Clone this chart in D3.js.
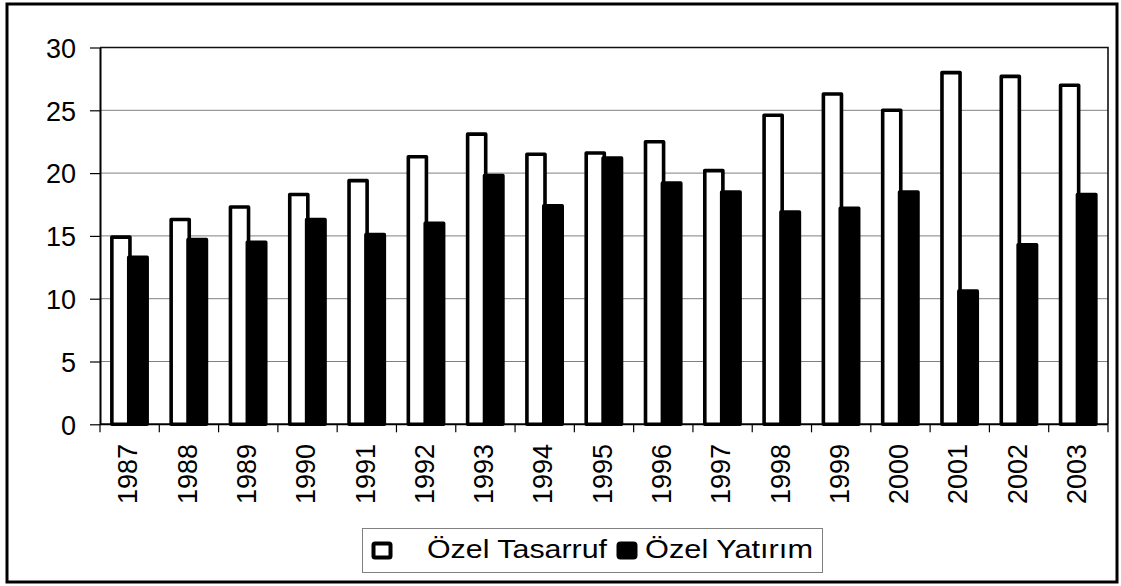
<!DOCTYPE html>
<html>
<head>
<meta charset="utf-8">
<script src="https://cdn.jsdelivr.net/npm/d3@7"></script>
<style>
  html, body { margin: 0; padding: 0; background: #fff; }
  svg { display: block; font-family: "Liberation Sans", Arial, sans-serif; }
</style>
</head>
<body>
<svg id="chart" width="1121" height="586"></svg>
<script>
const years = ["1987","1988","1989","1990","1991","1992","1993","1994","1995","1996","1997","1998","1999","2000","2001","2002","2003"];
const savings = [14.9,16.3,17.3,18.3,19.4,21.3,23.1,21.5,21.6,22.5,20.2,24.6,26.3,25.0,28.0,27.7,27.0];
const investment = [13.3,14.7,14.5,16.3,15.1,16.0,19.8,17.4,21.2,19.2,18.5,16.9,17.2,18.5,10.6,14.3,18.3];
const yTicks = [0,5,10,15,20,25,30];
const seriesNames = ["Özel Tasarruf","Özel Yatırım"];

const svg = d3.select("#chart");
const plot = {left: 100, right: 1108, top: 47.5, bottom: 424.3};

// outer frame
svg.append("rect").attr("x", 7).attr("y", 4).attr("width", 1110).attr("height", 578)
  .attr("fill", "#fff").attr("stroke", "#000").attr("stroke-width", 3);

const x = d3.scaleBand().domain(years).range([plot.left, plot.right]).padding(0);
const y = d3.scaleLinear().domain([0, 30]).range([plot.bottom, plot.top]);
const bw = x.bandwidth();

// gridlines
svg.append("g").selectAll("line").data(yTicks.filter(t => t > 0 && t < 30)).join("line")
  .attr("x1", plot.left).attr("x2", plot.right)
  .attr("y1", d => y(d)).attr("y2", d => y(d))
  .attr("stroke", "#808080").attr("stroke-width", 1);

// plot border (top & right)
svg.append("path")
  .attr("d", `M${plot.left},${y(30)}H${plot.right}V${plot.bottom}`)
  .attr("fill", "none").attr("stroke", "#111").attr("stroke-width", 1.6);

// bars
const bars = svg.append("g").attr("stroke-linejoin", "round");
bars.selectAll("rect.s").data(savings).join("rect").attr("class", "s")
  .attr("x", (d, i) => x(years[i]) + 0.2 * bw)
  .attr("width", 0.305 * bw)
  .attr("y", d => y(d))
  .attr("height", d => y(0) - y(d))
  .attr("fill", "#fff").attr("stroke", "#000").attr("stroke-width", 3.6);
bars.selectAll("rect.v").data(investment).join("rect").attr("class", "v")
  .attr("x", (d, i) => x(years[i]) + 0.485 * bw)
  .attr("width", 0.31 * bw)
  .attr("y", d => y(d))
  .attr("height", d => y(0) - y(d))
  .attr("fill", "#000").attr("stroke", "#000").attr("stroke-width", 3.6);

// y axis
const yAxis = d3.axisLeft(y).tickValues(yTicks).tickSize(10).tickSizeOuter(0).tickFormat(d3.format("d"));
const gy = svg.append("g").attr("transform", `translate(${plot.left},0)`).call(yAxis);
gy.select(".domain").attr("stroke", "#000").attr("stroke-width", 2);
gy.selectAll(".tick line").attr("stroke", "#000").attr("stroke-width", 1.2);
gy.selectAll(".tick text").attr("font-size", 27).attr("fill", "#000")
  .attr("font-family", "Liberation Sans, Arial, sans-serif").attr("x", -24).attr("dy", "0.36em");

// x axis
const boundaries = d3.range(years.length + 1).map(i => plot.left + i * bw);
svg.append("g").selectAll("line").data(boundaries).join("line")
  .attr("x1", d => d).attr("x2", d => d)
  .attr("y1", plot.bottom).attr("y2", plot.bottom + 8)
  .attr("stroke", "#000").attr("stroke-width", 1.2);
svg.append("line").attr("x1", plot.left).attr("x2", plot.right)
  .attr("y1", plot.bottom).attr("y2", plot.bottom)
  .attr("stroke", "#000").attr("stroke-width", 2);
svg.append("g").selectAll("text").data(years).join("text")
  .attr("transform", d => `translate(${x(d) + bw / 2 - 2},444) rotate(-90)`)
  .attr("text-anchor", "end").attr("dy", "0.36em")
  .attr("font-size", 27).attr("fill", "#000")
  .text(d => d);

// legend
const lg = svg.append("g");
lg.append("rect").attr("x", 362.5).attr("y", 528.5).attr("width", 460).attr("height", 44)
  .attr("fill", "#fff").attr("stroke", "#808080").attr("stroke-width", 1);
lg.append("rect").attr("x", 373.5).attr("y", 543.5).attr("width", 17).attr("height", 14)
  .attr("fill", "#fff").attr("stroke", "#000").attr("stroke-width", 4).attr("rx", 1.5);
lg.append("rect").attr("x", 617.5).attr("y", 542.5).attr("width", 19).attr("height", 16)
  .attr("fill", "#000").attr("stroke", "#000").attr("stroke-width", 2).attr("rx", 3);
lg.append("text").attr("x", 427).attr("y", 558).attr("font-size", 25)
  .attr("textLength", 180).attr("lengthAdjust", "spacingAndGlyphs")
  .attr("fill", "#000").text(seriesNames[0]);
lg.append("text").attr("x", 645).attr("y", 558).attr("font-size", 25)
  .attr("textLength", 168).attr("lengthAdjust", "spacingAndGlyphs")
  .attr("fill", "#000").text(seriesNames[1]);
</script>
</body>
</html>
